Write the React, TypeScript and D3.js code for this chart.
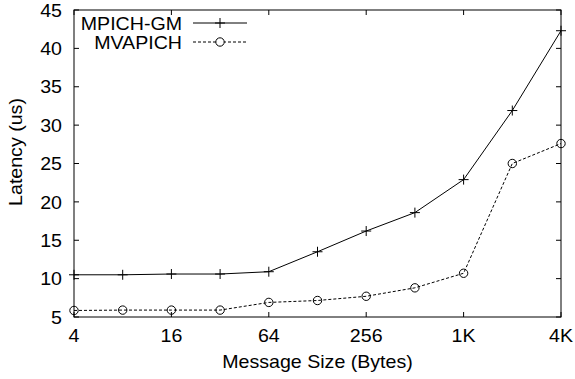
import React from 'react';
import * as d3 from 'd3';

const sizes = [4, 8, 16, 32, 64, 128, 256, 512, 1024, 2048, 4096];
const mpichGm = [10.5, 10.5, 10.6, 10.6, 10.9, 13.5, 16.2, 18.6, 22.9, 31.9, 42.3];
const mvapich = [5.85, 5.9, 5.9, 5.9, 6.9, 7.15, 7.7, 8.8, 10.7, 25.0, 27.6];
const xTicks = [4, 16, 64, 256, 1024, 4096];
const xTickLabels = ['4', '16', '64', '256', '1K', '4K'];
const yTicks = [5, 10, 15, 20, 25, 30, 35, 40, 45];

const W = 575;
const H = 379;
const margin = { top: 10, right: 14, bottom: 62, left: 74 };
const font = 'Liberation Sans, Arial, sans-serif';
const fs = 18.5;

// gnuplot output looks a bit wider than the plain font, so stretch text a little
const Txt = ({ x, y, anchor, children, dy }: any) => (
  <text
    transform={`translate(${x},${y}) scale(1.06,1)`}
    dy={dy}
    textAnchor={anchor}
    fontSize={fs}
  >
    {children}
  </text>
);

const App = () => {
  const x = d3.scaleLog().base(2).domain([4, 4096]).range([margin.left, W - margin.right]);
  const y = d3.scaleLinear().domain([5, 45]).range([H - margin.bottom, margin.top]);

  const line = d3
    .line<number>()
    .x((_, i) => x(sizes[i]))
    .y(d => y(d));

  const x0 = margin.left;
  const x1 = W - margin.right;
  const y0 = H - margin.bottom;
  const y1 = margin.top;
  const tick = 5;

  const plus = (cx: number, cy: number, k: string) => (
    <g key={k} stroke="#000" strokeWidth={1}>
      <line x1={cx - 5} x2={cx + 5} y1={cy} y2={cy} />
      <line x1={cx} x2={cx} y1={cy - 5} y2={cy + 5} />
    </g>
  );
  const circ = (cx: number, cy: number, k: string) => (
    <circle key={k} cx={cx} cy={cy} r={4.2} fill="none" stroke="#000" strokeWidth={1} />
  );

  return (
    <svg width={W} height={H} style={{ position: 'absolute', left: 0, top: 0 }} fontFamily={font}>
      <rect width={W} height={H} fill="#fff" />
      {/* ticks */}
      {yTicks.map(t => (
        <g key={'y' + t}>
          <line x1={x0} x2={x0 + tick} y1={y(t)} y2={y(t)} stroke="#000" />
          <line x1={x1} x2={x1 - tick} y1={y(t)} y2={y(t)} stroke="#000" />
          <Txt x={x0 - 12} y={y(t)} dy="0.36em" anchor="end">
            {t}
          </Txt>
        </g>
      ))}
      {xTicks.map((t, i) => (
        <g key={'x' + t}>
          <line x1={x(t)} x2={x(t)} y1={y0} y2={y0 - tick} stroke="#000" />
          <line x1={x(t)} x2={x(t)} y1={y1} y2={y1 + tick} stroke="#000" />
          <Txt x={x(t)} y={y0 + 25} anchor="middle">
            {xTickLabels[i]}
          </Txt>
        </g>
      ))}
      <rect x={x0} y={y1} width={x1 - x0} height={y0 - y1} fill="none" stroke="#000" strokeWidth={1} />
      {/* axis labels */}
      <Txt x={317.5} y={368} anchor="middle">
        Message Size (Bytes)
      </Txt>
      <text transform={`translate(22,152) rotate(-90) scale(1.06,1)`} textAnchor="middle" fontSize={fs}>
        Latency (us)
      </text>
      {/* series */}
      <path d={line(mpichGm) || ''} fill="none" stroke="#000" strokeWidth={1} />
      {mpichGm.map((v, i) => plus(x(sizes[i]), y(v), 'p' + i))}
      <path d={line(mvapich) || ''} fill="none" stroke="#000" strokeWidth={1} strokeDasharray="3,2" />
      {mvapich.map((v, i) => circ(x(sizes[i]), y(v), 'c' + i))}
      {/* legend */}
      <Txt x={182} y={23} dy="0.36em" anchor="end">
        MPICH-GM
      </Txt>
      <line x1={193} x2={247} y1={23} y2={23} stroke="#000" />
      {plus(220, 23, 'lp')}
      <Txt x={182} y={42} dy="0.36em" anchor="end">
        MVAPICH
      </Txt>
      <line x1={193} x2={247} y1={42} y2={42} stroke="#000" strokeDasharray="3,2" />
      <circle cx={220} cy={42} r={4.2} fill="#fff" stroke="#000" />
    </svg>
  );
};

export default App;
